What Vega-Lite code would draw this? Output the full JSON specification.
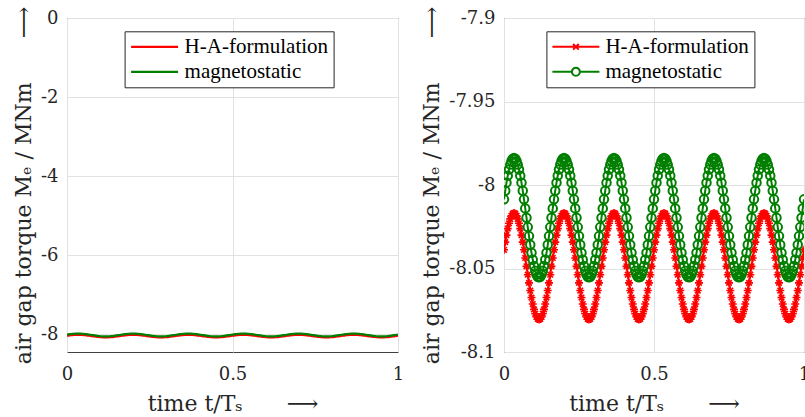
{
"$schema": "https://vega.github.io/schema/vega-lite/v6.json",
"padding": {"left": 11, "top": 5, "right": 0, "bottom": 0},
"bounds": "flush",
"spacing": 106,
"config": {
  "font": "DejaVu Serif",
  "style": {"guide-label": {"font": "DejaVu Serif"}, "guide-title": {"font": "DejaVu Serif"}},
  "view": {"stroke": "#404040", "strokeWidth": 1},
  "axis": {"domain": false, "ticks": false, "grid": true, "gridColor": "#e2e2e2", "gridWidth": 1, "labelFont": "DejaVu Serif", "labelFontSize": 18, "labelColor": "#262626", "labelFlush": false, "titleFont": "DejaVu Serif", "titleFontSize": 22, "titleFontWeight": "normal", "titleColor": "#262626"},
  "legend": {"labelFont": "serif", "labelFontSize": 21, "labelColor": "black"}
},
"resolve": {"scale": {"color": "independent"}, "legend": {"color": "independent"}},
"datasets": {
"ha": [
{"t":0,"M":-8.0388},{"t":0.0042,"M":-8.0342},{"t":0.0083,"M":-8.03},{"t":0.0125,"M":-8.0261},{"t":0.0167,"M":-8.0229},{"t":0.0208,"M":-8.0203},{"t":0.025,"M":-8.0184},{"t":0.0292,"M":-8.0172},{"t":0.0333,"M":-8.0168},{"t":0.0375,"M":-8.0172},{"t":0.0417,"M":-8.0184},{"t":0.0458,"M":-8.0203},{"t":0.05,"M":-8.0229},{"t":0.0542,"M":-8.0261},{"t":0.0583,"M":-8.03},{"t":0.0625,"M":-8.0342},{"t":0.0667,"M":-8.0388},{"t":0.0708,"M":-8.0437},{"t":0.075,"M":-8.0487},{"t":0.0792,"M":-8.0537},{"t":0.0833,"M":-8.0586},{"t":0.0875,"M":-8.0632},{"t":0.0917,"M":-8.0674},{"t":0.0958,"M":-8.0713},{"t":0.1,"M":-8.0745},{"t":0.1042,"M":-8.0771},{"t":0.1083,"M":-8.079},{"t":0.1125,"M":-8.0802},{"t":0.1167,"M":-8.0806},{"t":0.1208,"M":-8.0802},{"t":0.125,"M":-8.079},{"t":0.1292,"M":-8.0771},{"t":0.1333,"M":-8.0745},{"t":0.1375,"M":-8.0713},{"t":0.1417,"M":-8.0674},{"t":0.1458,"M":-8.0632},{"t":0.15,"M":-8.0586},{"t":0.1542,"M":-8.0537},{"t":0.1583,"M":-8.0487},{"t":0.1625,"M":-8.0437},
{"t":0.1667,"M":-8.0388},{"t":0.1708,"M":-8.0342},{"t":0.175,"M":-8.03},{"t":0.1792,"M":-8.0261},{"t":0.1833,"M":-8.0229},{"t":0.1875,"M":-8.0203},{"t":0.1917,"M":-8.0184},{"t":0.1958,"M":-8.0172},{"t":0.2,"M":-8.0168},{"t":0.2042,"M":-8.0172},{"t":0.2083,"M":-8.0184},{"t":0.2125,"M":-8.0203},{"t":0.2167,"M":-8.0229},{"t":0.2208,"M":-8.0261},{"t":0.225,"M":-8.03},{"t":0.2292,"M":-8.0342},{"t":0.2333,"M":-8.0388},{"t":0.2375,"M":-8.0437},{"t":0.2417,"M":-8.0487},{"t":0.2458,"M":-8.0537},{"t":0.25,"M":-8.0586},{"t":0.2542,"M":-8.0632},{"t":0.2583,"M":-8.0674},{"t":0.2625,"M":-8.0713},{"t":0.2667,"M":-8.0745},{"t":0.2708,"M":-8.0771},{"t":0.275,"M":-8.079},{"t":0.2792,"M":-8.0802},{"t":0.2833,"M":-8.0806},{"t":0.2875,"M":-8.0802},{"t":0.2917,"M":-8.079},{"t":0.2958,"M":-8.0771},{"t":0.3,"M":-8.0745},{"t":0.3042,"M":-8.0713},{"t":0.3083,"M":-8.0674},{"t":0.3125,"M":-8.0632},{"t":0.3167,"M":-8.0586},{"t":0.3208,"M":-8.0537},{"t":0.325,"M":-8.0487},{"t":0.3292,"M":-8.0437},
{"t":0.3333,"M":-8.0388},{"t":0.3375,"M":-8.0342},{"t":0.3417,"M":-8.03},{"t":0.3458,"M":-8.0261},{"t":0.35,"M":-8.0229},{"t":0.3542,"M":-8.0203},{"t":0.3583,"M":-8.0184},{"t":0.3625,"M":-8.0172},{"t":0.3667,"M":-8.0168},{"t":0.3708,"M":-8.0172},{"t":0.375,"M":-8.0184},{"t":0.3792,"M":-8.0203},{"t":0.3833,"M":-8.0229},{"t":0.3875,"M":-8.0261},{"t":0.3917,"M":-8.03},{"t":0.3958,"M":-8.0342},{"t":0.4,"M":-8.0388},{"t":0.4042,"M":-8.0437},{"t":0.4083,"M":-8.0487},{"t":0.4125,"M":-8.0537},{"t":0.4167,"M":-8.0586},{"t":0.4208,"M":-8.0632},{"t":0.425,"M":-8.0674},{"t":0.4292,"M":-8.0713},{"t":0.4333,"M":-8.0745},{"t":0.4375,"M":-8.0771},{"t":0.4417,"M":-8.079},{"t":0.4458,"M":-8.0802},{"t":0.45,"M":-8.0806},{"t":0.4542,"M":-8.0802},{"t":0.4583,"M":-8.079},{"t":0.4625,"M":-8.0771},{"t":0.4667,"M":-8.0745},{"t":0.4708,"M":-8.0713},{"t":0.475,"M":-8.0674},{"t":0.4792,"M":-8.0632},{"t":0.4833,"M":-8.0586},{"t":0.4875,"M":-8.0537},{"t":0.4917,"M":-8.0487},{"t":0.4958,"M":-8.0437},
{"t":0.5,"M":-8.0388},{"t":0.5042,"M":-8.0342},{"t":0.5083,"M":-8.03},{"t":0.5125,"M":-8.0261},{"t":0.5167,"M":-8.0229},{"t":0.5208,"M":-8.0203},{"t":0.525,"M":-8.0184},{"t":0.5292,"M":-8.0172},{"t":0.5333,"M":-8.0168},{"t":0.5375,"M":-8.0172},{"t":0.5417,"M":-8.0184},{"t":0.5458,"M":-8.0203},{"t":0.55,"M":-8.0229},{"t":0.5542,"M":-8.0261},{"t":0.5583,"M":-8.03},{"t":0.5625,"M":-8.0342},{"t":0.5667,"M":-8.0388},{"t":0.5708,"M":-8.0437},{"t":0.575,"M":-8.0487},{"t":0.5792,"M":-8.0537},{"t":0.5833,"M":-8.0586},{"t":0.5875,"M":-8.0632},{"t":0.5917,"M":-8.0674},{"t":0.5958,"M":-8.0713},{"t":0.6,"M":-8.0745},{"t":0.6042,"M":-8.0771},{"t":0.6083,"M":-8.079},{"t":0.6125,"M":-8.0802},{"t":0.6167,"M":-8.0806},{"t":0.6208,"M":-8.0802},{"t":0.625,"M":-8.079},{"t":0.6292,"M":-8.0771},{"t":0.6333,"M":-8.0745},{"t":0.6375,"M":-8.0713},{"t":0.6417,"M":-8.0674},{"t":0.6458,"M":-8.0632},{"t":0.65,"M":-8.0586},{"t":0.6542,"M":-8.0537},{"t":0.6583,"M":-8.0487},{"t":0.6625,"M":-8.0437},
{"t":0.6667,"M":-8.0388},{"t":0.6708,"M":-8.0342},{"t":0.675,"M":-8.03},{"t":0.6792,"M":-8.0261},{"t":0.6833,"M":-8.0229},{"t":0.6875,"M":-8.0203},{"t":0.6917,"M":-8.0184},{"t":0.6958,"M":-8.0172},{"t":0.7,"M":-8.0168},{"t":0.7042,"M":-8.0172},{"t":0.7083,"M":-8.0184},{"t":0.7125,"M":-8.0203},{"t":0.7167,"M":-8.0229},{"t":0.7208,"M":-8.0261},{"t":0.725,"M":-8.03},{"t":0.7292,"M":-8.0342},{"t":0.7333,"M":-8.0388},{"t":0.7375,"M":-8.0437},{"t":0.7417,"M":-8.0487},{"t":0.7458,"M":-8.0537},{"t":0.75,"M":-8.0586},{"t":0.7542,"M":-8.0632},{"t":0.7583,"M":-8.0674},{"t":0.7625,"M":-8.0713},{"t":0.7667,"M":-8.0745},{"t":0.7708,"M":-8.0771},{"t":0.775,"M":-8.079},{"t":0.7792,"M":-8.0802},{"t":0.7833,"M":-8.0806},{"t":0.7875,"M":-8.0802},{"t":0.7917,"M":-8.079},{"t":0.7958,"M":-8.0771},{"t":0.8,"M":-8.0745},{"t":0.8042,"M":-8.0713},{"t":0.8083,"M":-8.0674},{"t":0.8125,"M":-8.0632},{"t":0.8167,"M":-8.0586},{"t":0.8208,"M":-8.0537},{"t":0.825,"M":-8.0487},{"t":0.8292,"M":-8.0437},
{"t":0.8333,"M":-8.0388},{"t":0.8375,"M":-8.0342},{"t":0.8417,"M":-8.03},{"t":0.8458,"M":-8.0261},{"t":0.85,"M":-8.0229},{"t":0.8542,"M":-8.0203},{"t":0.8583,"M":-8.0184},{"t":0.8625,"M":-8.0172},{"t":0.8667,"M":-8.0168},{"t":0.8708,"M":-8.0172},{"t":0.875,"M":-8.0184},{"t":0.8792,"M":-8.0203},{"t":0.8833,"M":-8.0229},{"t":0.8875,"M":-8.0261},{"t":0.8917,"M":-8.03},{"t":0.8958,"M":-8.0342},{"t":0.9,"M":-8.0388},{"t":0.9042,"M":-8.0437},{"t":0.9083,"M":-8.0487},{"t":0.9125,"M":-8.0537},{"t":0.9167,"M":-8.0586},{"t":0.9208,"M":-8.0632},{"t":0.925,"M":-8.0674},{"t":0.9292,"M":-8.0713},{"t":0.9333,"M":-8.0745},{"t":0.9375,"M":-8.0771},{"t":0.9417,"M":-8.079},{"t":0.9458,"M":-8.0802},{"t":0.95,"M":-8.0806},{"t":0.9542,"M":-8.0802},{"t":0.9583,"M":-8.079},{"t":0.9625,"M":-8.0771},{"t":0.9667,"M":-8.0745},{"t":0.9708,"M":-8.0713},{"t":0.975,"M":-8.0674},{"t":0.9792,"M":-8.0632},{"t":0.9833,"M":-8.0586},{"t":0.9875,"M":-8.0537},{"t":0.9917,"M":-8.0487},{"t":0.9958,"M":-8.0437},
{"t":1,"M":-8.0388}
],
"ms": [
{"t":0,"M":-8.0086},{"t":0.0042,"M":-8.0034},{"t":0.0083,"M":-7.9986},{"t":0.0125,"M":-7.9944},{"t":0.0167,"M":-7.9907},{"t":0.0208,"M":-7.9878},{"t":0.025,"M":-7.9856},{"t":0.0292,"M":-7.9843},{"t":0.0333,"M":-7.9839},{"t":0.0375,"M":-7.9843},{"t":0.0417,"M":-7.9856},{"t":0.0458,"M":-7.9878},{"t":0.05,"M":-7.9907},{"t":0.0542,"M":-7.9944},{"t":0.0583,"M":-7.9986},{"t":0.0625,"M":-8.0034},{"t":0.0667,"M":-8.0086},{"t":0.0708,"M":-8.014},{"t":0.075,"M":-8.0196},{"t":0.0792,"M":-8.0252},{"t":0.0833,"M":-8.0306},{"t":0.0875,"M":-8.0358},{"t":0.0917,"M":-8.0406},{"t":0.0958,"M":-8.0448},{"t":0.1,"M":-8.0485},{"t":0.1042,"M":-8.0514},{"t":0.1083,"M":-8.0536},{"t":0.1125,"M":-8.0549},{"t":0.1167,"M":-8.0553},{"t":0.1208,"M":-8.0549},{"t":0.125,"M":-8.0536},{"t":0.1292,"M":-8.0514},{"t":0.1333,"M":-8.0485},{"t":0.1375,"M":-8.0448},{"t":0.1417,"M":-8.0406},{"t":0.1458,"M":-8.0358},{"t":0.15,"M":-8.0306},{"t":0.1542,"M":-8.0252},{"t":0.1583,"M":-8.0196},{"t":0.1625,"M":-8.014},
{"t":0.1667,"M":-8.0086},{"t":0.1708,"M":-8.0034},{"t":0.175,"M":-7.9986},{"t":0.1792,"M":-7.9944},{"t":0.1833,"M":-7.9907},{"t":0.1875,"M":-7.9878},{"t":0.1917,"M":-7.9856},{"t":0.1958,"M":-7.9843},{"t":0.2,"M":-7.9839},{"t":0.2042,"M":-7.9843},{"t":0.2083,"M":-7.9856},{"t":0.2125,"M":-7.9878},{"t":0.2167,"M":-7.9907},{"t":0.2208,"M":-7.9944},{"t":0.225,"M":-7.9986},{"t":0.2292,"M":-8.0034},{"t":0.2333,"M":-8.0086},{"t":0.2375,"M":-8.014},{"t":0.2417,"M":-8.0196},{"t":0.2458,"M":-8.0252},{"t":0.25,"M":-8.0306},{"t":0.2542,"M":-8.0358},{"t":0.2583,"M":-8.0406},{"t":0.2625,"M":-8.0448},{"t":0.2667,"M":-8.0485},{"t":0.2708,"M":-8.0514},{"t":0.275,"M":-8.0536},{"t":0.2792,"M":-8.0549},{"t":0.2833,"M":-8.0553},{"t":0.2875,"M":-8.0549},{"t":0.2917,"M":-8.0536},{"t":0.2958,"M":-8.0514},{"t":0.3,"M":-8.0485},{"t":0.3042,"M":-8.0448},{"t":0.3083,"M":-8.0406},{"t":0.3125,"M":-8.0358},{"t":0.3167,"M":-8.0306},{"t":0.3208,"M":-8.0252},{"t":0.325,"M":-8.0196},{"t":0.3292,"M":-8.014},
{"t":0.3333,"M":-8.0086},{"t":0.3375,"M":-8.0034},{"t":0.3417,"M":-7.9986},{"t":0.3458,"M":-7.9944},{"t":0.35,"M":-7.9907},{"t":0.3542,"M":-7.9878},{"t":0.3583,"M":-7.9856},{"t":0.3625,"M":-7.9843},{"t":0.3667,"M":-7.9839},{"t":0.3708,"M":-7.9843},{"t":0.375,"M":-7.9856},{"t":0.3792,"M":-7.9878},{"t":0.3833,"M":-7.9907},{"t":0.3875,"M":-7.9944},{"t":0.3917,"M":-7.9986},{"t":0.3958,"M":-8.0034},{"t":0.4,"M":-8.0086},{"t":0.4042,"M":-8.014},{"t":0.4083,"M":-8.0196},{"t":0.4125,"M":-8.0252},{"t":0.4167,"M":-8.0306},{"t":0.4208,"M":-8.0358},{"t":0.425,"M":-8.0406},{"t":0.4292,"M":-8.0448},{"t":0.4333,"M":-8.0485},{"t":0.4375,"M":-8.0514},{"t":0.4417,"M":-8.0536},{"t":0.4458,"M":-8.0549},{"t":0.45,"M":-8.0553},{"t":0.4542,"M":-8.0549},{"t":0.4583,"M":-8.0536},{"t":0.4625,"M":-8.0514},{"t":0.4667,"M":-8.0485},{"t":0.4708,"M":-8.0448},{"t":0.475,"M":-8.0406},{"t":0.4792,"M":-8.0358},{"t":0.4833,"M":-8.0306},{"t":0.4875,"M":-8.0252},{"t":0.4917,"M":-8.0196},{"t":0.4958,"M":-8.014},
{"t":0.5,"M":-8.0086},{"t":0.5042,"M":-8.0034},{"t":0.5083,"M":-7.9986},{"t":0.5125,"M":-7.9944},{"t":0.5167,"M":-7.9907},{"t":0.5208,"M":-7.9878},{"t":0.525,"M":-7.9856},{"t":0.5292,"M":-7.9843},{"t":0.5333,"M":-7.9839},{"t":0.5375,"M":-7.9843},{"t":0.5417,"M":-7.9856},{"t":0.5458,"M":-7.9878},{"t":0.55,"M":-7.9907},{"t":0.5542,"M":-7.9944},{"t":0.5583,"M":-7.9986},{"t":0.5625,"M":-8.0034},{"t":0.5667,"M":-8.0086},{"t":0.5708,"M":-8.014},{"t":0.575,"M":-8.0196},{"t":0.5792,"M":-8.0252},{"t":0.5833,"M":-8.0306},{"t":0.5875,"M":-8.0358},{"t":0.5917,"M":-8.0406},{"t":0.5958,"M":-8.0448},{"t":0.6,"M":-8.0485},{"t":0.6042,"M":-8.0514},{"t":0.6083,"M":-8.0536},{"t":0.6125,"M":-8.0549},{"t":0.6167,"M":-8.0553},{"t":0.6208,"M":-8.0549},{"t":0.625,"M":-8.0536},{"t":0.6292,"M":-8.0514},{"t":0.6333,"M":-8.0485},{"t":0.6375,"M":-8.0448},{"t":0.6417,"M":-8.0406},{"t":0.6458,"M":-8.0358},{"t":0.65,"M":-8.0306},{"t":0.6542,"M":-8.0252},{"t":0.6583,"M":-8.0196},{"t":0.6625,"M":-8.014},
{"t":0.6667,"M":-8.0086},{"t":0.6708,"M":-8.0034},{"t":0.675,"M":-7.9986},{"t":0.6792,"M":-7.9944},{"t":0.6833,"M":-7.9907},{"t":0.6875,"M":-7.9878},{"t":0.6917,"M":-7.9856},{"t":0.6958,"M":-7.9843},{"t":0.7,"M":-7.9839},{"t":0.7042,"M":-7.9843},{"t":0.7083,"M":-7.9856},{"t":0.7125,"M":-7.9878},{"t":0.7167,"M":-7.9907},{"t":0.7208,"M":-7.9944},{"t":0.725,"M":-7.9986},{"t":0.7292,"M":-8.0034},{"t":0.7333,"M":-8.0086},{"t":0.7375,"M":-8.014},{"t":0.7417,"M":-8.0196},{"t":0.7458,"M":-8.0252},{"t":0.75,"M":-8.0306},{"t":0.7542,"M":-8.0358},{"t":0.7583,"M":-8.0406},{"t":0.7625,"M":-8.0448},{"t":0.7667,"M":-8.0485},{"t":0.7708,"M":-8.0514},{"t":0.775,"M":-8.0536},{"t":0.7792,"M":-8.0549},{"t":0.7833,"M":-8.0553},{"t":0.7875,"M":-8.0549},{"t":0.7917,"M":-8.0536},{"t":0.7958,"M":-8.0514},{"t":0.8,"M":-8.0485},{"t":0.8042,"M":-8.0448},{"t":0.8083,"M":-8.0406},{"t":0.8125,"M":-8.0358},{"t":0.8167,"M":-8.0306},{"t":0.8208,"M":-8.0252},{"t":0.825,"M":-8.0196},{"t":0.8292,"M":-8.014},
{"t":0.8333,"M":-8.0086},{"t":0.8375,"M":-8.0034},{"t":0.8417,"M":-7.9986},{"t":0.8458,"M":-7.9944},{"t":0.85,"M":-7.9907},{"t":0.8542,"M":-7.9878},{"t":0.8583,"M":-7.9856},{"t":0.8625,"M":-7.9843},{"t":0.8667,"M":-7.9839},{"t":0.8708,"M":-7.9843},{"t":0.875,"M":-7.9856},{"t":0.8792,"M":-7.9878},{"t":0.8833,"M":-7.9907},{"t":0.8875,"M":-7.9944},{"t":0.8917,"M":-7.9986},{"t":0.8958,"M":-8.0034},{"t":0.9,"M":-8.0086},{"t":0.9042,"M":-8.014},{"t":0.9083,"M":-8.0196},{"t":0.9125,"M":-8.0252},{"t":0.9167,"M":-8.0306},{"t":0.9208,"M":-8.0358},{"t":0.925,"M":-8.0406},{"t":0.9292,"M":-8.0448},{"t":0.9333,"M":-8.0485},{"t":0.9375,"M":-8.0514},{"t":0.9417,"M":-8.0536},{"t":0.9458,"M":-8.0549},{"t":0.95,"M":-8.0553},{"t":0.9542,"M":-8.0549},{"t":0.9583,"M":-8.0536},{"t":0.9625,"M":-8.0514},{"t":0.9667,"M":-8.0485},{"t":0.9708,"M":-8.0448},{"t":0.975,"M":-8.0406},{"t":0.9792,"M":-8.0358},{"t":0.9833,"M":-8.0306},{"t":0.9875,"M":-8.0252},{"t":0.9917,"M":-8.0196},{"t":0.9958,"M":-8.014},
{"t":1,"M":-8.0086}
]
},
"hconcat": [
{
  "width": 331, "height": 334,
  "encoding": {
    "x": {"field": "t", "type": "quantitative", "scale": {"domain": [0, 1], "nice": false}, "axis": {"values": [0, 0.5, 1], "labelExpr": "'' + datum.value", "labelPadding": 13, "title": "time t/Tₛ\u2003\u2003⟶", "titlePadding": 10}},
    "y": {"field": "M", "type": "quantitative", "scale": {"domain": [-8.45, 0], "nice": false, "zero": false}, "axis": {"values": [-8, -6, -4, -2, 0], "labelExpr": "'' + datum.value", "labelPadding": 9, "title": "air gap torque Mₑ / MNm\u2003\u2003⟶", "titlePadding": 5}}
  },
  "layer": [
    {"data": {"name": "ha"}, "mark": {"type": "line", "strokeWidth": 2.2, "clip": true},
     "encoding": {"color": {"datum": "H-A-formulation", "type": "nominal",
       "scale": {"domain": ["H-A-formulation", "magnetostatic"], "range": ["#ff0000", "#007f00"]},
       "legend": {"orient": "none", "legendX": 57.6, "legendY": 13.3, "title": null, "direction": "vertical", "strokeColor": "#262626", "fillColor": "white", "padding": 5, "symbolType": "stroke", "symbolSize": 2209, "symbolStrokeWidth": 2.2, "clipHeight": 21, "rowPadding": 3, "labelFontSize": 21, "labelFont": "serif", "labelColor": "black", "labelOffset": 5, "labelLimit": 0, "symbolOffset": 0}}}},
    {"data": {"name": "ms"}, "mark": {"type": "line", "strokeWidth": 2.2, "clip": true},
     "encoding": {"color": {"datum": "magnetostatic", "type": "nominal"}}}
  ]
},
{
  "width": 300, "height": 334,
  "encoding": {
    "x": {"field": "t", "type": "quantitative", "scale": {"domain": [0, 1], "nice": false}, "axis": {"values": [0, 0.5, 1], "labelExpr": "'' + datum.value", "labelPadding": 13, "title": "time t/Tₛ\u2003\u2003⟶", "titlePadding": 10}},
    "y": {"field": "M", "type": "quantitative", "scale": {"domain": [-8.1, -7.9], "nice": false, "zero": false}, "axis": {"values": [-8.1, -8.05, -8, -7.95, -7.9], "labelExpr": "'' + datum.value", "labelPadding": 9, "title": "air gap torque Mₑ / MNm\u2003\u2003⟶", "titlePadding": 5}}
  },
  "layer": [
    {"data": {"name": "ha"}, "mark": {"type": "line", "strokeWidth": 2, "clip": true},
     "encoding": {"color": {"datum": "H-A-formulation", "type": "nominal",
       "scale": {"domain": ["H-A-formulation", "magnetostatic"], "range": ["#ff0000", "#007f00"]},
       "legend": {"orient": "none", "legendX": 42.4, "legendY": 13.3, "title": null, "direction": "vertical", "strokeColor": "#262626", "fillColor": "white", "padding": 5, "symbolType": "stroke", "symbolSize": 2209, "symbolStrokeWidth": 2, "clipHeight": 21, "rowPadding": 3, "labelFontSize": 21, "labelFont": "serif", "labelColor": "black", "labelOffset": 5, "labelLimit": 0, "symbolOffset": 0,
         "encode": {"symbols": {"update": {"shape": {"signal": "datum.value === 'magnetostatic' ? 'M-1,0H-0.17M0.17,0H1M-0.17,0A0.17,0.17 0 1,1 0.17,0A0.17,0.17 0 1,1 -0.17,0' : 'M-1,0H1M-0.12,-0.12L0.12,0.12M-0.12,0.12L0.12,-0.12'"}, "fill": {"value": "transparent"}}}}}}}},
    {"data": {"name": "ha"}, "mark": {"type": "point", "shape": "M0,-1V1M-1,0H1M-0.7,-0.7L0.7,0.7M-0.7,0.7L0.7,-0.7", "size": 64, "filled": false, "strokeWidth": 1.6, "opacity": 1, "clip": true},
     "encoding": {"color": {"datum": "H-A-formulation", "type": "nominal"}}},
    {"data": {"name": "ms"}, "mark": {"type": "line", "strokeWidth": 2, "clip": true},
     "encoding": {"color": {"datum": "magnetostatic", "type": "nominal"}}},
    {"data": {"name": "ms"}, "mark": {"type": "point", "shape": "circle", "size": 72, "filled": false, "strokeWidth": 2, "opacity": 1, "clip": true},
     "encoding": {"color": {"datum": "magnetostatic", "type": "nominal"}}}
  ]
}
]
}
